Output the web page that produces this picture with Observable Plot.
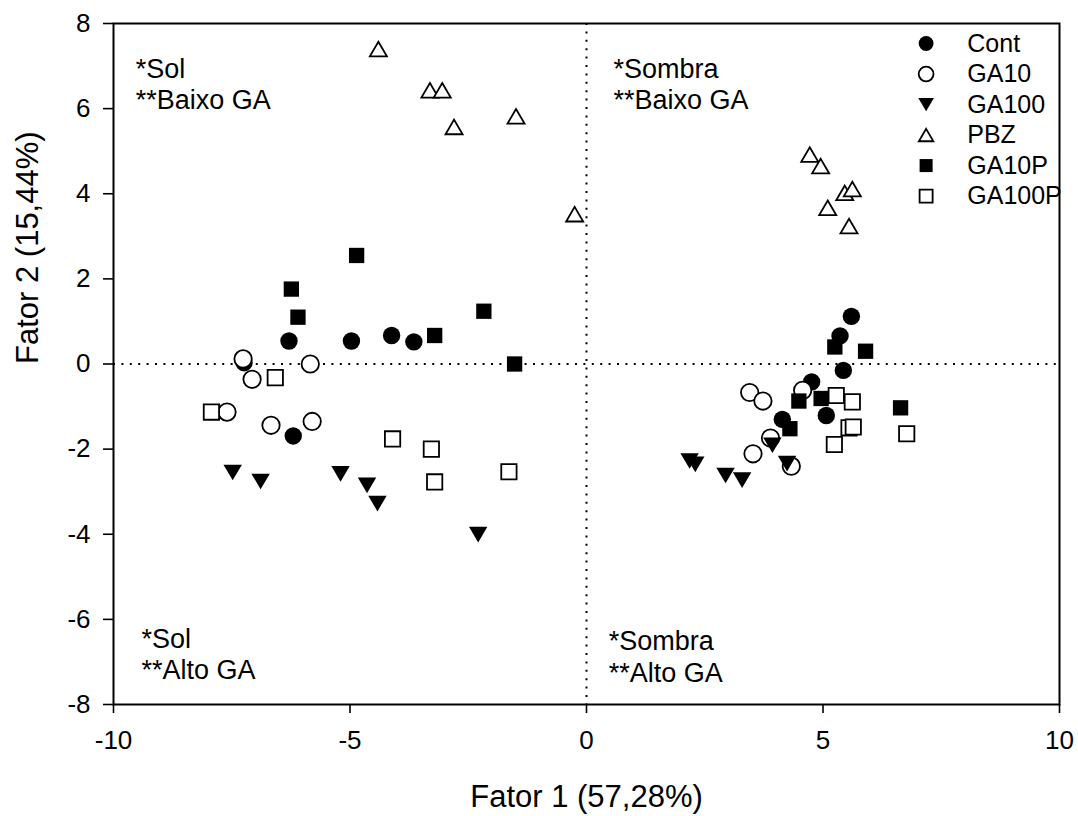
<!DOCTYPE html>
<html>
<head>
<meta charset="utf-8">
<script src="https://cdn.jsdelivr.net/npm/d3@7"></script>
<script src="https://cdn.jsdelivr.net/npm/@observablehq/plot@0.6"></script>
<style>
  html, body { margin: 0; padding: 0; background: #fff; }
</style>
</head>
<body>
<div id="chart"></div>
<script>
// Factor scores (Fator 1, Fator 2) per treatment, sun-grown then shade-grown plants
const contX  = [-6.29, -4.97, -4.12, -3.65, -7.24, -6.20, 5.60, 5.36, 5.43, 4.76, 5.07, 4.14];
const contY  = [ 0.54,  0.54,  0.67,  0.52,  0.03, -1.69, 1.12, 0.66, -0.15, -0.42, -1.21, -1.30];
const ga10X  = [-7.26, -5.84, -7.07, -7.60, -6.67, -5.80, 4.57, 3.45, 3.73, 3.89, 3.52, 4.33];
const ga10Y  = [ 0.12,  0.00, -0.36, -1.13, -1.44, -1.35, -0.62, -0.67, -0.87, -1.74, -2.11, -2.40];
const ga100X = [-7.48, -6.89, -5.20, -4.64, -4.42, -2.29, 2.18, 2.30, 2.94, 3.29, 3.93, 4.24];
const ga100Y = [-2.55, -2.76, -2.58, -2.85, -3.28, -4.01, -2.28, -2.36, -2.62, -2.73, -1.91, -2.34];
const pbzX   = [-4.40, -3.31, -3.05, -2.80, -1.49, -0.25, 4.72, 4.95, 5.46, 5.62, 5.10, 5.55];
const pbzY   = [ 7.40,  6.43,  6.43,  5.57,  5.82,  3.52, 4.92, 4.65, 4.02, 4.11, 3.67, 3.24];
const ga10pX = [-4.86, -6.24, -6.10, -3.21, -2.17, -1.52, 5.25, 5.90, 4.49, 4.96, 6.64, 4.30];
const ga10pY = [ 2.55,  1.76,  1.10,  0.67,  1.24,  0.00, 0.40, 0.30, -0.87, -0.81, -1.03, -1.52];
const ga100pX = [-6.58, -7.93, -4.10, -3.28, -3.21, -1.64, 5.28, 5.62, 6.77, 5.55, 5.64, 5.24];
const ga100pY = [-0.32, -1.13, -1.76, -2.00, -2.77, -2.53, -0.74, -0.89, -1.64, -1.50, -1.48, -1.89];

const groupNames = ["Cont", "GA10", "GA100", "PBZ", "GA10P", "GA100P"];
const xTicks = [-10, -5, 0, 5, 10];
const yTicks = [-8, -6, -4, -2, 0, 2, 4, 6, 8];
const quadrantLabels = ["*Sol\n**Baixo GA", "*Sombra\n**Baixo GA", "*Sol\n**Alto GA", "*Sombra\n**Alto GA"];
const xTitle = "Fator 1 (57,28%)";
const yTitle = "Fator 2 (15,44%)";

// Marker shapes (size is π·r², as Plot passes it)
const rad = s => Math.sqrt(s / Math.PI);
const squareSym = {draw(c, s) { const h = 0.88 * rad(s); c.rect(-h, -h, 2 * h, 2 * h); }};
const triUp = {draw(c, s) { const r = rad(s), w = 0.98 * r, h = 0.84 * r;
  c.moveTo(0, -h); c.lineTo(w, h); c.lineTo(-w, h); c.closePath(); }};
const triDown = {draw(c, s) { const r = rad(s), w = 1.06 * r, h = 0.9 * r;
  c.moveTo(0, h); c.lineTo(w, -h); c.lineTo(-w, -h); c.closePath(); }};

const groups = [
  {xs: contX,   ys: contY,   symbol: d3.symbolCircle, fill: "black", stroke: "none"},
  {xs: ga10X,   ys: ga10Y,   symbol: d3.symbolCircle, fill: "white", stroke: "black"},
  {xs: ga100X,  ys: ga100Y,  symbol: triDown,         fill: "black", stroke: "none"},
  {xs: pbzX,    ys: pbzY,    symbol: triUp,           fill: "white", stroke: "black"},
  {xs: ga10pX,  ys: ga10pY,  symbol: squareSym,       fill: "black", stroke: "none"},
  {xs: ga100pX, ys: ga100pY, symbol: squareSym,       fill: "white", stroke: "black"}
].map((g, i) => ({...g, name: groupNames[i]}));

const font = "'Liberation Sans', Arial, Helvetica, sans-serif";

// Scatter points, drawn group by group in legend order
const pointMarks = groups.map(g =>
  Plot.dot(g.xs.map((x, j) => ({x, y: g.ys[j]})), {
    x: "x", y: "y", r: 8.7, symbol: g.symbol,
    fill: g.fill, stroke: g.stroke, strokeWidth: 1.8
  })
);

// Legend in the upper-right corner of the frame
const legendMarks = groups.flatMap((g, i) => [
  Plot.dot([g.name], {
    x: () => 7.18, y: () => 7.53 - i * 0.717, r: 7.4, symbol: g.symbol,
    fill: g.fill, stroke: g.stroke, strokeWidth: 1.8
  }),
  Plot.text([g.name], {
    x: () => 8.05, y: () => 7.53 - i * 0.717, text: d => d,
    textAnchor: "start", lineAnchor: "middle", fontSize: 25, fill: "black"
  })
]);

const chart = Plot.plot({
  width: 1078,
  height: 816,
  marginLeft: 113,
  marginRight: 19,
  marginTop: 23,
  marginBottom: 112,
  style: {fontFamily: font, fontSize: "26px", color: "black", background: "white"},
  x: {domain: [-10, 10]},
  y: {domain: [-8, 8]},
  marks: [
    Plot.ruleY([0], {stroke: "black", strokeWidth: 2, strokeDasharray: "2,6.4"}),
    Plot.ruleX([0], {stroke: "black", strokeWidth: 2, strokeDasharray: "2,6.4"}),
    Plot.axisX({ticks: xTicks, tickFormat: d => String(d), tickSize: 9, tickPadding: 17,
      strokeWidth: 1.6, fontSize: 26, label: null}),
    Plot.axisY({ticks: yTicks, tickFormat: d => String(d), tickSize: 10, tickPadding: 13,
      strokeWidth: 1.6, fontSize: 26, label: null}),
    Plot.frame({stroke: "black", strokeWidth: 2}),
    ...pointMarks,
    Plot.text(quadrantLabels, {
      x: [-9.53, 0.57, -9.41, 0.47], y: [7.26, 7.26, -6.13, -6.18],
      text: d => d, textAnchor: "start", lineAnchor: "top",
      lineHeight: 1.18, fontSize: 27, fill: "black"
    }),
    ...legendMarks,
    Plot.text([xTitle], {frameAnchor: "bottom", dy: 102, lineAnchor: "bottom",
      text: d => d, fontSize: 31, fill: "black"}),
    Plot.text([yTitle], {frameAnchor: "left", dx: -85, rotate: -90, lineAnchor: "middle",
      text: d => d, fontSize: 31, fill: "black"})
  ]
});

document.getElementById("chart").appendChild(chart);
</script>
</body>
</html>
